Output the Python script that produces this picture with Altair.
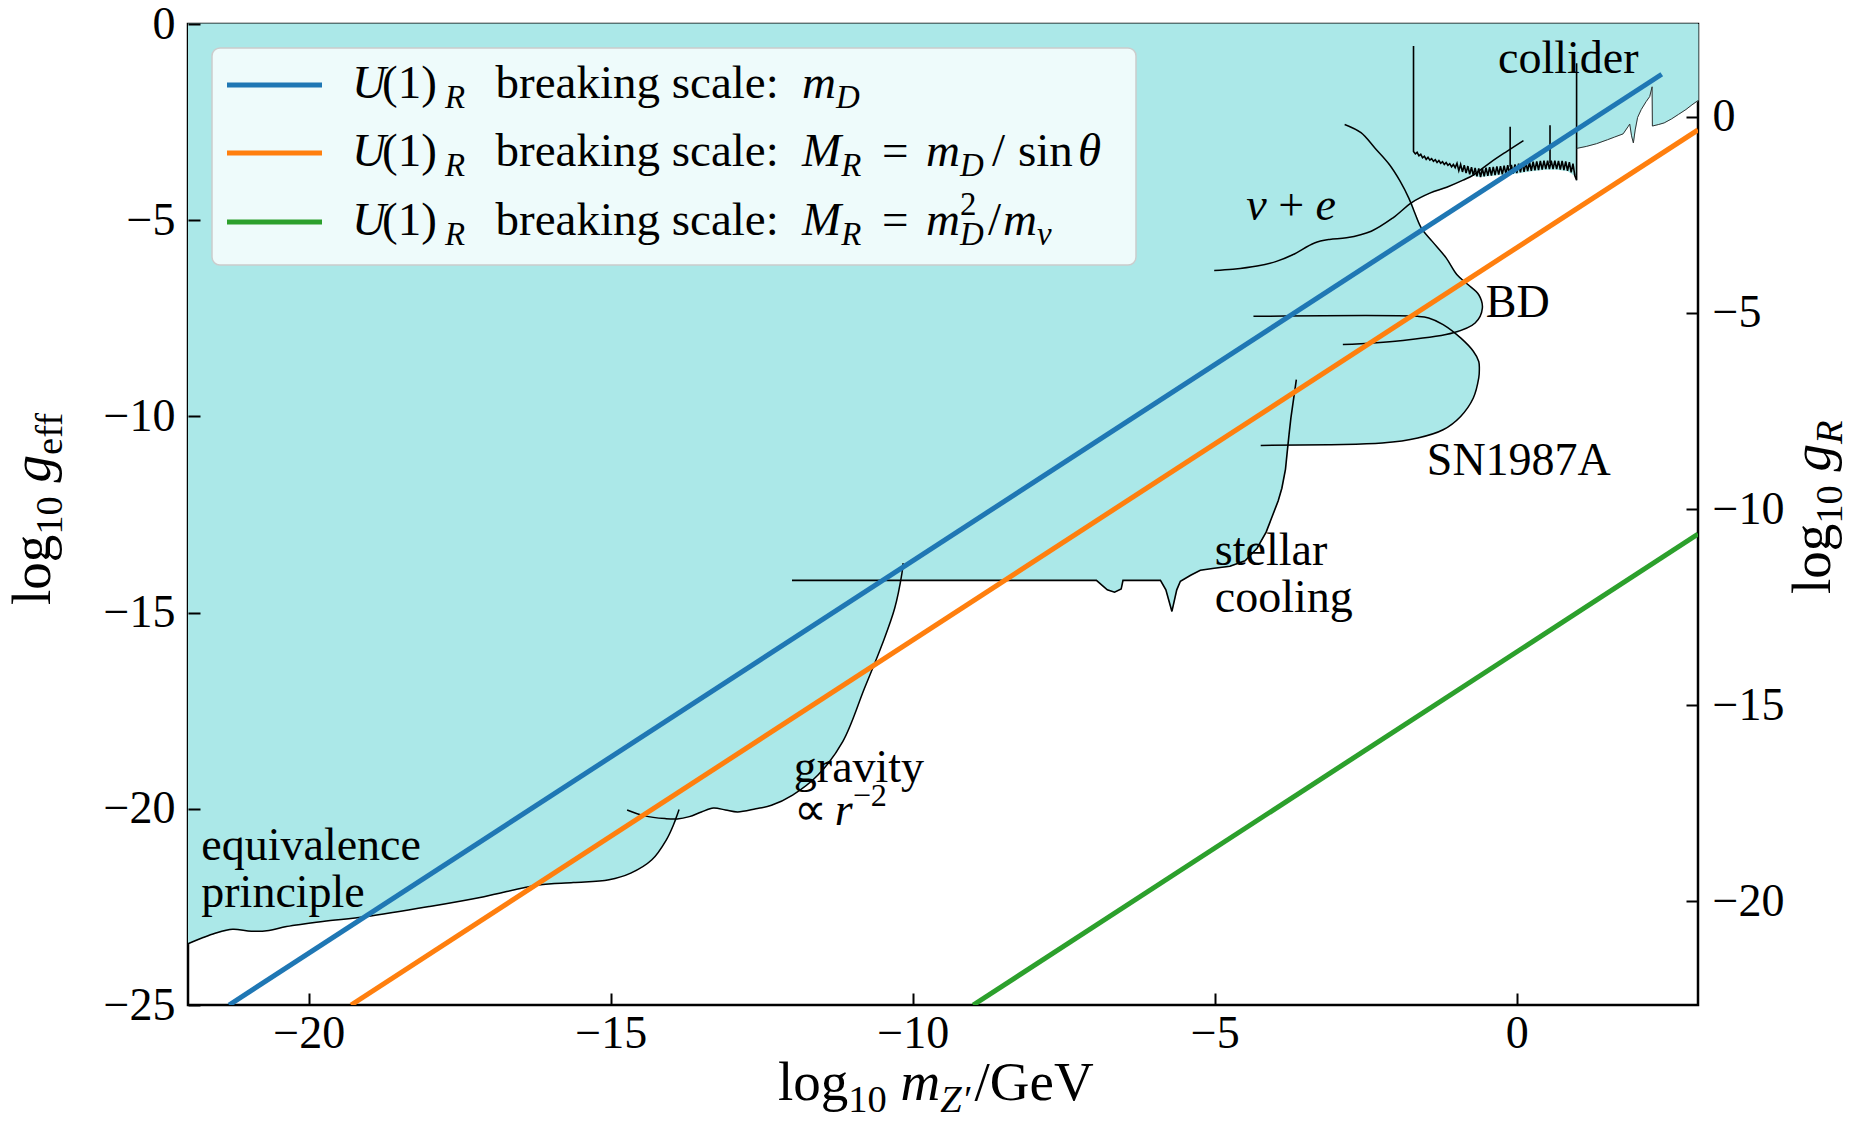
import altair as alt
import pandas as pd

FONT = "Liberation Serif"
CYAN = "#abe8e8"
BLUE, ORANGE, GREEN = "#1f77b4", "#ff7f0e", "#2ca02c"

# ---------------------------------------------------------------- axes
X_DOMAIN = [-22.0, 3.0]
Y_DOMAIN = [-25.0, 0.0]
GR_DOMAIN = [-22.64, 2.36]          # log10 g_R shown on the right
X_TICKS = [-20, -15, -10, -5, 0]
Y_TICKS = [-25, -20, -15, -10, -5, 0]
GR_TICKS = [-20, -15, -10, -5, 0]

# ---------------------------------------------------------------- U(1)_R breaking-scale lines
MD_X = [-21.32, 2.40]
MD_Y = [-25.00, -1.28]
MR_SIN_X = [-19.30, 3.00]
MR_SIN_Y = [-25.00, -2.70]
MR_SEESAW_X = [-9.00, 3.00]
MR_SEESAW_Y = [-25.00, -13.00]

# ---------------------------------------------------------------- exclusion contours
EQUIV_X = [-22.00, -21.78, -21.55, -21.26, -20.95, -20.66, -20.37, -19.77, -19.06, -18.00,
           -17.10, -16.20, -15.62, -15.03, -14.67, -14.32, -14.08, -13.96, -13.90, -13.87]
EQUIV_Y = [-23.44, -23.30, -23.17, -23.07, -23.12, -23.10, -23.00, -22.87, -22.75, -22.49,
           -22.24, -21.94, -21.88, -21.81, -21.64, -21.30, -20.79, -20.40, -20.15, -20.02]

GRAVITY_X = [-14.73, -14.44, -14.10, -13.90, -13.70, -13.50, -13.30, -13.10, -12.90, -12.60,
             -12.34, -11.99, -11.57, -11.16, -10.80, -10.51, -10.30, -10.18, -10.16]
GRAVITY_Y = [-20.03, -20.18, -20.25, -20.26, -20.20, -20.08, -19.98, -20.03, -20.08, -20.00,
             -19.91, -19.65, -19.14, -18.29, -16.93, -15.82, -14.89, -14.00, -13.74]

STELLAR_X = [-12.00, -6.96, -6.78, -6.66, -6.55, -6.52, -5.90, -5.81, -5.71, -5.63, -5.57,
             -5.40, -5.24, -5.01, -4.75, -4.50, -4.30, -4.15, -4.06, -3.95, -3.89, -3.83,
             -3.80, -3.77, -3.74, -3.65]
STELLAR_Y = [-14.18, -14.18, -14.42, -14.48, -14.40, -14.18, -14.18, -14.42, -14.97, -14.42, -14.20,
             -14.05, -13.92, -13.87, -13.82, -13.68, -13.36, -12.95, -12.59, -12.15, -11.83, -11.35,
             -10.89, -10.45, -10.04, -9.06]

SN_X = [-4.36, -1.64, -1.46, -1.22, -0.93, -0.72, -0.63, -0.62, -0.63, -0.72, -0.93,
        -1.22, -1.64, -2.23, -3.12, -4.24]
SN_Y = [-7.45, -7.45, -7.49, -7.66, -8.00, -8.34, -8.60, -8.80, -9.02, -9.53, -10.00,
        -10.34, -10.55, -10.68, -10.72, -10.74]

BD_X = [-2.88, -1.93, -1.05, -0.69, -0.57, -0.63, -0.81, -0.99, -1.17, -1.40, -1.58,
        -1.70, -1.79, -1.93, -2.11, -2.35, -2.58, -2.85]
BD_Y = [-8.17, -8.07, -7.87, -7.62, -7.24, -6.90, -6.64, -6.39, -5.96, -5.54, -5.20,
        -4.77, -4.43, -4.01, -3.58, -3.16, -2.77, -2.56]

NUE_X = [-5.01, -4.70, -4.30, -3.98, -3.71, -3.35, -3.10, -2.82, -2.41, -2.05, -1.74,
         -1.44, -1.16, -0.89, -0.72, -0.44, -0.17, 0.11]
NUE_Y = [-6.28, -6.25, -6.17, -6.05, -5.88, -5.58, -5.49, -5.45, -5.28, -4.94, -4.55,
         -4.31, -4.16, -3.98, -3.85, -3.53, -3.25, -2.97]

COLLIDER_X = [-1.71, -1.71, -1.68, -1.65, -1.62, -1.59, -1.56, -1.53, -1.50, -1.47, -1.44,
              -1.41, -1.38, -1.35, -1.32, -1.29, -1.26, -1.23, -1.20, -1.17, -1.14, -1.11,
              -1.08, -1.05, -1.02,
              -0.99, -0.96, -0.93, -0.90, -0.87, -0.84, -0.81, -0.78, -0.75, -0.72, -0.69,
              -0.66, -0.63, -0.60, -0.57, -0.54, -0.51, -0.48, -0.45, -0.42, -0.39, -0.36,
              -0.33, -0.30, -0.27, -0.24, -0.21, -0.18, -0.15, -0.12, -0.09, -0.06, -0.03,
              0.00, 0.03, 0.06, 0.09, 0.12, 0.15, 0.18, 0.21, 0.24, 0.27, 0.30, 0.33, 0.36,
              0.39, 0.42, 0.45, 0.48, 0.51, 0.54, 0.57, 0.60, 0.63, 0.66, 0.69, 0.72, 0.75,
              0.78, 0.81, 0.84, 0.87, 0.90, 0.93, 0.96, 0.99, 0.99]
COLLIDER_Y = [-0.56, -3.25, -3.31, -3.27, -3.36, -3.32, -3.41, -3.37, -3.45, -3.40, -3.47,
              -3.43, -3.50, -3.46, -3.53, -3.48, -3.55, -3.51, -3.58, -3.53, -3.60, -3.56,
              -3.64, -3.58, -3.66,
              -3.55, -3.74, -3.58, -3.77, -3.60, -3.80, -3.62, -3.83, -3.65, -3.86, -3.67,
              -3.88, -3.68, -3.90, -3.69, -3.88, -3.66, -3.87, -3.65, -3.86, -3.64, -3.85,
              -3.63, -3.84, -3.62, -3.83, -3.61, -3.82, -3.60, -3.82, -3.59, -3.81, -3.58,
              -3.80, -3.56, -3.78, -3.55, -3.77, -3.53, -3.75, -3.52, -3.74, -3.51, -3.73, -3.50, -3.72,
              -3.49, -3.71, -3.48, -3.70, -3.48, -3.70, -3.48, -3.70, -3.48, -3.70, -3.49, -3.71, -3.49,
              -3.72, -3.50, -3.74, -3.52, -3.78, -3.56, -3.86, -3.98, -1.00]
SPIKE1_X = [-0.11, -0.11]
SPIKE1_Y = [-3.64, -2.62]
SPIKE2_X = [0.55, 0.55]
SPIKE2_Y = [-3.55, -2.58]
HIGHMASS_X = [0.99, 1.15, 1.32, 1.50, 1.62, 1.76, 1.84, 1.87, 1.90, 1.93, 1.96, 2.00, 2.06,
              2.14, 2.20, 2.24, 2.245, 2.35, 2.44, 2.56, 2.68, 2.80, 2.90, 3.00]
HIGHMASS_Y = [-3.17, -3.12, -3.05, -2.95, -2.88, -2.80, -2.62, -2.55, -2.85, -3.03, -2.70, -2.38, -2.18,
              -1.98, -1.85, -1.60, -2.60, -2.56, -2.52, -2.42, -2.30, -2.18, -2.06, -1.95]

# outline of the combined excluded region (clockwise from the top-left corner)
EXCL_X = [-22.00, 3.00, 3.00, 2.90, 2.80, 2.68, 2.56, 2.44, 2.35, 2.245, 2.24, 2.20, 2.14, 2.06,
          2.00, 1.96, 1.93, 1.90, 1.87, 1.84, 1.76, 1.62, 1.50, 1.32, 1.15, 0.99, 0.99, 0.96,
          0.84, 0.66, 0.48, 0.30, 0.12, 0.00, -0.18, -0.36, -0.54, -0.66, -0.72, -0.89, -1.16,
          -1.44, -1.74, -1.70, -1.58, -1.40, -1.17, -0.99, -0.81, -0.63, -0.57, -0.69, -1.00,
          -0.93, -0.72, -0.63, -0.62, -0.63, -0.72, -0.93, -1.22, -1.64, -2.23, -3.12, -3.79,
          -3.80, -3.83, -3.89, -3.95, -4.06, -4.15, -4.30, -4.50, -4.75, -5.01, -5.24, -5.40,
          -5.57, -5.63, -5.71, -5.81, -5.90, -6.52, -6.55, -6.66, -6.78, -6.96, -10.20, -10.30,
          -10.51, -10.80, -11.16, -11.57, -11.99, -12.34, -12.60, -12.90, -13.10, -13.30, -13.50,
          -13.70, -13.90, -13.96, -14.08, -14.32, -14.67, -15.03, -15.62, -16.20, -17.10, -18.00,
          -19.06, -19.77, -20.37, -20.66, -20.95, -21.26, -21.55, -21.78, -22.00]
EXCL_Y = [0.00, 0.00, -1.95, -2.06, -2.18, -2.30, -2.42, -2.52, -2.56, -2.60, -1.60, -1.85, -1.98, -2.18,
          -2.38, -2.70, -3.03, -2.85, -2.55, -2.62, -2.80, -2.88, -2.95, -3.05, -3.12, -3.17, -3.98, -3.86,
          -3.74, -3.70, -3.70, -3.73, -3.77, -3.80, -3.82, -3.85, -3.88, -3.88, -3.86, -3.98, -4.16,
          -4.31, -4.55, -4.77, -5.20, -5.54, -5.96, -6.39, -6.64, -6.90, -7.24, -7.62, -7.88,
          -8.00, -8.34, -8.60, -8.80, -9.02, -9.53, -10.00, -10.34, -10.55, -10.68, -10.72, -10.73,
          -10.89, -11.35, -11.83, -12.15, -12.59, -12.95, -13.36, -13.68, -13.82, -13.87, -13.92, -14.05,
          -14.20, -14.42, -14.97, -14.42, -14.18, -14.18, -14.40, -14.48, -14.42, -14.18, -14.18, -14.89,
          -15.82, -16.93, -18.29, -19.14, -19.65, -19.91, -20.00, -20.08, -20.03, -19.98, -20.08,
          -20.20, -20.25, -20.40, -20.79, -21.30, -21.64, -21.81, -21.88, -21.94, -22.24, -22.49,
          -22.75, -22.87, -23.00, -23.10, -23.12, -23.07, -23.17, -23.30, -23.44]


def curves(*items):
    frames = []
    for name, xs, ys in items:
        frames.append(pd.DataFrame({"x": xs, "y": ys, "curve": name, "i": list(range(len(xs)))}))
    return pd.concat(frames, ignore_index=True)


# ---------------------------------------------------------------- scales / axes
x_scale = alt.Scale(domain=X_DOMAIN, nice=False, zero=False)
y_scale = alt.Scale(domain=Y_DOMAIN, nice=False, zero=False)
tick_style = dict(grid=False, domain=False, ticks=True, tickSize=12, tickWidth=2, tickColor="black",
                  offset=-12, labelFont=FONT, labelFontSize=46, labelColor="black",
                  labelFlush=False, labelOverlap=False, title=None, zindex=1, format="d")
X = alt.X("x:Q", scale=x_scale, axis=alt.Axis(values=X_TICKS, orient="bottom", labelPadding=6, **tick_style))
Y = alt.Y("y:Q", scale=y_scale, axis=alt.Axis(values=Y_TICKS, orient="left", labelPadding=13, **tick_style))

# ---------------------------------------------------------------- text helpers (math-like labels)
ROMAN_W = {" ": 250, "(": 333, ")": 333, ":": 278, "=": 564, "/": 278, "+": 564, "−": 564,
           "′": 333, "θ": 520, "ν": 500, "∝": 640,
           "A": 722, "B": 667, "D": 722, "G": 722, "M": 889, "N": 722, "R": 667, "S": 556,
           "U": 722, "V": 722, "Z": 611, "a": 444, "b": 500, "c": 444, "d": 500, "e": 444,
           "f": 333, "g": 500, "i": 278, "k": 500, "l": 278, "m": 778, "n": 500, "o": 500,
           "p": 500, "r": 333, "s": 389, "t": 278, "u": 500, "v": 500, "y": 500}
ITALIC_W = {"D": 722, "M": 833, "R": 611, "U": 722, "Z": 556, "e": 444, "g": 500, "m": 722,
            "r": 389, "θ": 500, "ν": 444}


def text_width(s, italic, size):
    table = ITALIC_W if italic else {}
    return sum(table.get(c, ROMAN_W.get(c, 500)) for c in s) / 1000.0 * size


def piece(text, size, italic, dx, dy, angle, at, px):
    mark = dict(text=text, font=FONT, fontSize=size, fontStyle="italic" if italic else "normal",
                align="left", baseline="alphabetic", angle=angle, dx=dx, dy=dy, color="black")
    if at is not None:
        return alt.Chart(pd.DataFrame({"x": [at[0]], "y": [at[1]]})).mark_text(**mark).encode(x=X, y=Y)
    return alt.Chart(alt.Data(values=[{}])).mark_text(**mark).encode(x=alt.value(px[0]), y=alt.value(px[1]))


def rich(pieces, size, at=None, px=None, angle=0):
    """Lay out roman/italic/sub/superscript pieces along a baseline."""
    out, pos, prev_start = [], 0.0, 0.0
    for item in pieces:
        text, kind = item[0], item[1]
        place = item[2] if len(item) > 2 else None
        small = kind.startswith("sub") or kind.startswith("sup")
        fs = size * 0.7 if small else size
        italic = kind.endswith("it")
        if place == "stack":
            start = prev_start
        elif place is not None:
            start = float(place)
        else:
            start = pos
        lead = len(text) - len(text.lstrip(" "))
        trail = len(text) - len(text.rstrip(" "))
        body = text.strip(" ")
        start += lead * 0.25 * fs
        if kind.startswith("sub"):
            shift = 0.22 * size
        elif kind.startswith("sup"):
            shift = -0.42 * size
        else:
            shift = 0.0
        out.append(piece(body, fs, italic, start, shift, angle, at, px))
        end = start + text_width(body, italic, fs) + trail * 0.25 * fs
        pos = max(pos, end) if place == "stack" else end
        prev_start = start
    return out


# ---------------------------------------------------------------- layers
excluded = alt.Chart(curves(("excluded", EXCL_X, EXCL_Y))).mark_line(
    fill=CYAN, stroke=CYAN, strokeWidth=1, interpolate="linear"
).encode(x=X, y=Y, order=alt.Order("i:Q"))

smooth = alt.Chart(curves(("equiv", EQUIV_X, EQUIV_Y), ("gravity", GRAVITY_X, GRAVITY_Y),
                          ("sn", SN_X, SN_Y), ("bd", BD_X, BD_Y), ("nue", NUE_X, NUE_Y))).mark_line(
    color="black", strokeWidth=1.5, interpolate="catmull-rom"
).encode(x=X, y=Y, detail="curve:N", order=alt.Order("i:Q"))

sharp = alt.Chart(curves(("stellar", STELLAR_X, STELLAR_Y), ("collider", COLLIDER_X, COLLIDER_Y),
                         ("spike1", SPIKE1_X, SPIKE1_Y), ("spike2", SPIKE2_X, SPIKE2_Y))).mark_line(
    color="black", strokeWidth=1.6
).encode(x=X, y=Y, detail="curve:N", order=alt.Order("i:Q"))

highmass = alt.Chart(curves(("high", HIGHMASS_X, HIGHMASS_Y))).mark_line(
    color="#333333", strokeWidth=1.0
).encode(x=X, y=Y, order=alt.Order("i:Q"))

scale_lines = alt.Chart(curves(("md", MD_X, MD_Y), ("sin", MR_SIN_X, MR_SIN_Y),
                               ("seesaw", MR_SEESAW_X, MR_SEESAW_Y))).mark_line(
    strokeWidth=5, clip=True
).encode(x=X, y=Y, order=alt.Order("i:Q"),
         color=alt.Color("curve:N", scale=alt.Scale(domain=["md", "sin", "seesaw"],
                                                    range=[BLUE, ORANGE, GREEN]), legend=None))

ANN = 46
labels = []
labels += rich([("equivalence", "rm")], ANN, at=(-21.78, -21.30))
labels += rich([("principle", "rm")], ANN, at=(-21.78, -22.49))
labels += rich([("gravity", "rm")], ANN, at=(-11.97, -19.31))
labels += rich([("∝", "rm"), (" r", "it"), ("−2", "sup_rm")], ANN, at=(-11.97, -20.41))
labels += rich([("stellar", "rm")], ANN, at=(-5.00, -13.79))
labels += rich([("cooling", "rm")], ANN, at=(-5.00, -14.98))
labels += rich([("SN1987A", "rm")], ANN, at=(-1.49, -11.49))
labels += rich([("BD", "rm")], ANN, at=(-0.515, -7.46))
labels += rich([("collider", "rm")], ANN, at=(-0.31, -1.26))
labels += rich([("ν", "it"), (" + ", "rm"), ("e", "it")], ANN, at=(-4.48, -5.00))

# legend (pixel layout inside the plot area)
LEG = 47
legend_box = alt.Chart(alt.Data(values=[{}])).mark_rect(
    fill="white", fillOpacity=0.8, stroke="#cccccc", strokeWidth=1.5, cornerRadius=8
).encode(x=alt.value(24), x2=alt.value(948), y=alt.value(24), y2=alt.value(241))

legend_rows = []
for color, yline in [(BLUE, 61), (ORANGE, 129), (GREEN, 198)]:
    legend_rows.append(alt.Chart(alt.Data(values=[{}])).mark_rule(color=color, strokeWidth=5).encode(
        x=alt.value(39), x2=alt.value(134), y=alt.value(yline)))

head = [("U", "it"), ("(1)", "rm", 30), ("R", "sub_it", 93), ("breaking scale:", "rm", 143.6)]
legend_text = []
legend_text += rich(head + [("m", "it", 450), ("D", "sub_it")], LEG, px=(164, 74))
legend_text += rich(head + [("M", "it", 450), ("R", "sub_it"), ("=", "rm", 530), ("m", "it", 574),
                            ("D", "sub_it"), ("/", "rm", 640), ("sin", "rm", 666), ("θ", "it", 726)],
                    LEG, px=(164, 142))
legend_text += rich(head + [("M", "it", 450), ("R", "sub_it"), ("=", "rm", 530), ("m", "it", 574),
                            ("D", "sub_it"), ("2", "sup_rm", "stack"), ("/", "rm", 636),
                            ("m", "it", 651), ("ν", "sub_it")],
                    LEG, px=(164, 211))

TITLE = 55
titles = []
titles += rich([("log", "rm"), ("10", "sub_rm"), (" m", "it"), ("Z′", "sub_it"), ("/GeV", "rm")],
               TITLE, px=(590, 1076))
titles += rich([("log", "rm"), ("10", "sub_rm"), (" g", "it"), ("eff", "sub_rm")],
               TITLE, px=(-138, 581), angle=270)
titles += rich([("log", "rm"), ("10", "sub_rm"), (" g", "it"), ("R", "sub_it")],
               TITLE, px=(1642, 570), angle=270)

main = alt.layer(excluded, smooth, sharp, highmass, scale_lines, *labels,
                 legend_box, *legend_rows, *legend_text, *titles)

right_axis = alt.Chart(pd.DataFrame({"g": GR_DOMAIN})).mark_point(opacity=0).encode(
    y=alt.Y("g:Q", scale=alt.Scale(domain=GR_DOMAIN, nice=False, zero=False),
            axis=alt.Axis(values=GR_TICKS, orient="right", labelPadding=14, **tick_style)))

chart = alt.layer(main, right_axis).resolve_scale(y="independent").properties(
    width=1510, height=981,
    autosize=alt.AutoSizeParams(type="none"),
    padding={"left": 188, "top": 24, "right": 164, "bottom": 120},
).configure_view(stroke="black", strokeWidth=2.5)

chart.save("out.html", embed_options={"renderer": "svg", "actions": False})
